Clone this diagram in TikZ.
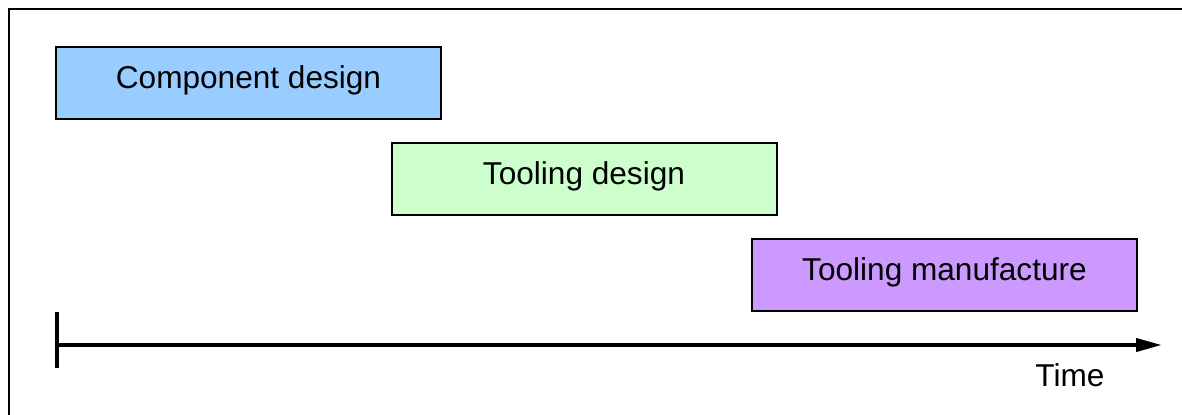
\documentclass[tikz,border=0pt]{standalone}
\usepackage{fontspec}
\setmainfont{Liberation Sans}
\usetikzlibrary{arrows.meta}
\definecolor{compblue}{HTML}{99CCFF}
\definecolor{toolgreen}{HTML}{CCFFCC}
\definecolor{manupurple}{HTML}{CC99FF}
\tikzset{
  phase/.style={draw=black, line width=1pt, minimum width=192.5pt, minimum height=36pt,
    inner sep=0pt, text height=11pt, text depth=6pt, font=\fontsize{15.8}{18}\selectfont},
  axisline/.style={line width=2pt}
}
\begin{document}
\begin{tikzpicture}[x=0.5pt,y=-0.5pt]
  \useasboundingbox (0,0) rectangle (1182,414);
  % der Rahmen
  \begin{scope}
   \clip (0,0) rectangle (1182,414);
   \draw[line width=1pt] (8.5,9) rectangle (1200,430);
  \end{scope}
  % die Phasen
  \node[phase, fill=compblue] (comp) at (248.5,83) {Component design};
  \node[phase, fill=toolgreen] (tool) at (584,179) {Tooling design};
  \node[phase, fill=manupurple] (manu) at (944.5,275) {Tooling manufacture};
  % die Zeitachse
  \coordinate (t0) at (57,345);
  \coordinate (t1) at (1162,345);
  \coordinate (tickup) at (57,312);
  \coordinate (tickdown) at (57,368);
  \draw[axisline] (tickup) -- (tickdown);
  \draw[axisline, -{Triangle[length=13pt,width=6.5pt]}] (t0) -- (t1);
  \node[font=\fontsize{15.8}{18}\selectfont] (time) at (1070,375) {Time};
\end{tikzpicture}
\end{document}
